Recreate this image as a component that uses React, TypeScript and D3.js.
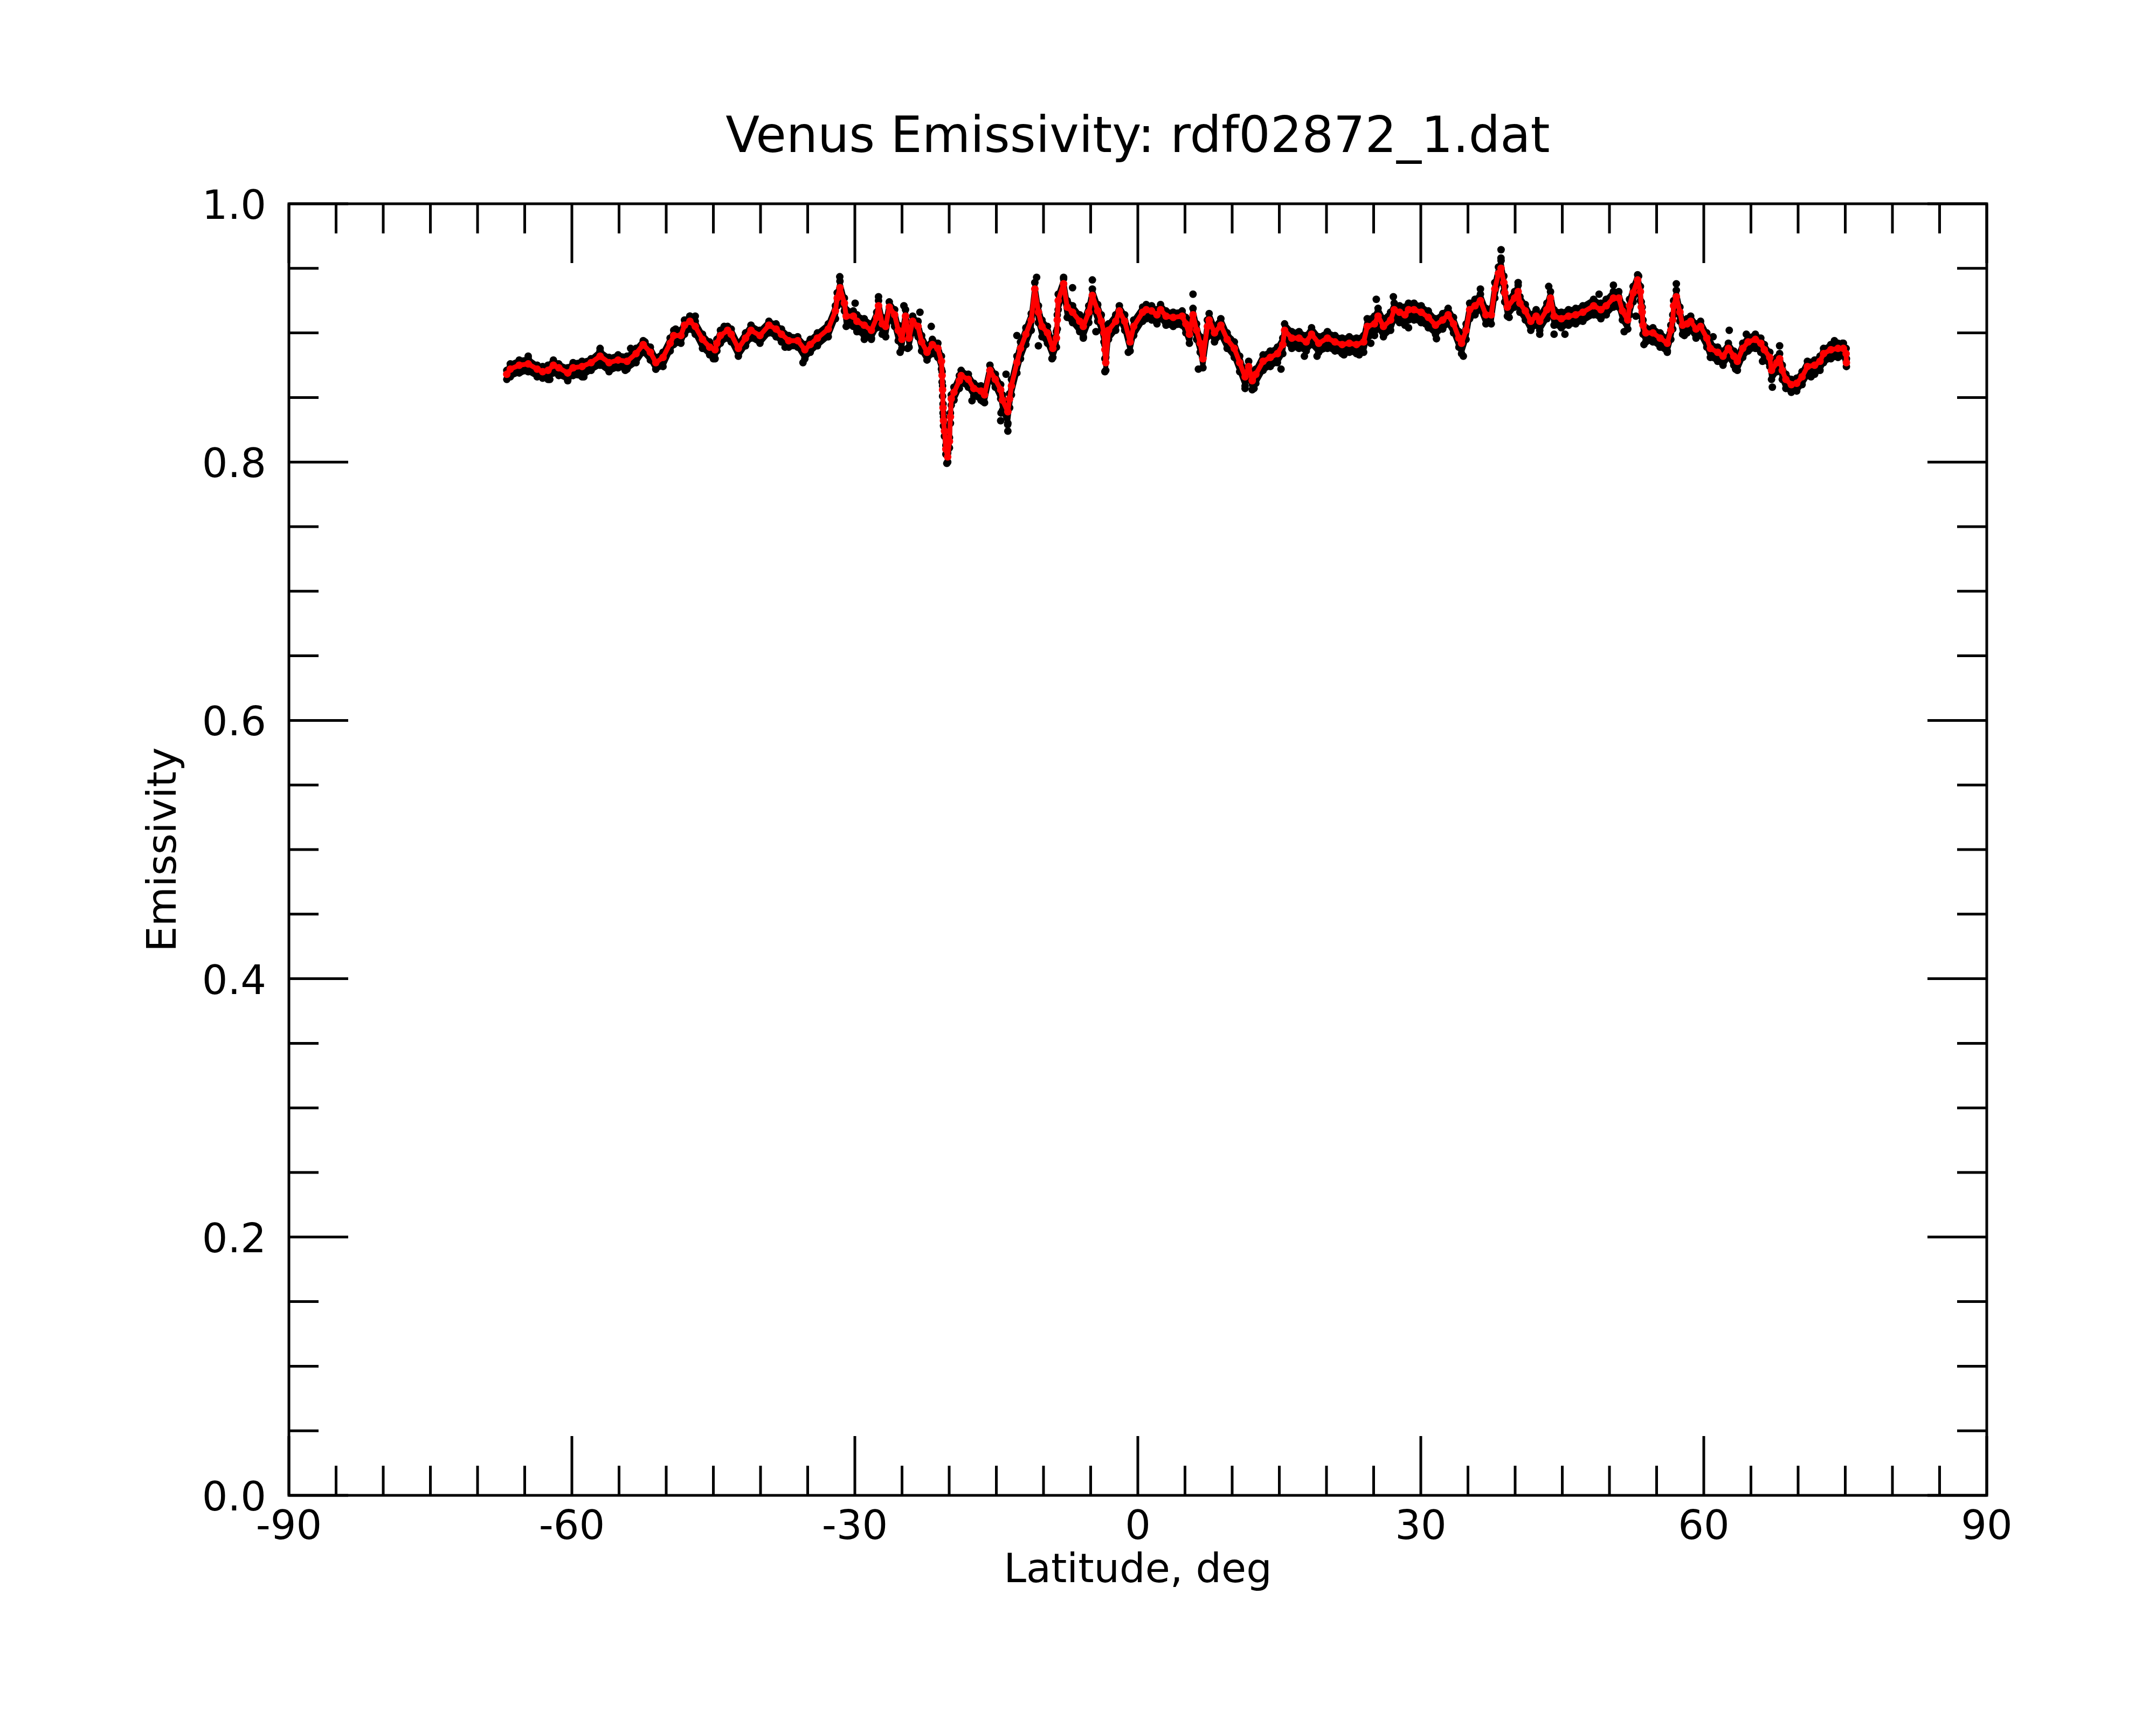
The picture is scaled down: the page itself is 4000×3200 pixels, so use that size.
import React from 'react';
import * as d3 from 'd3';

// latitude (deg) of each smoothed sample
const latitudes = [
  -66.9, -66.53, -65.58, -64.63, -63.68, -63.1, -62.53, -61.96, -61.39, -60.44,
  -59.87, -58.92, -57.96, -57.01, -56.06, -55.1, -54.15, -53.2, -52.44, -51.68,
  -51.1, -50.34, -49.58, -49.2, -48.44, -48.06, -47.49, -46.92, -46.15, -45.39,
  -44.82, -44.63, -44.25, -43.49, -43.11, -42.35, -41.59, -41.01, -40.06, -39.11,
  -38.35, -37.78, -37.01, -36.06, -35.3, -34.73, -33.97, -32.82, -32.06, -31.87,
  -31.58, -31.11, -30.92, -30.16, -29.78, -29.01, -28.25, -27.68, -27.49, -27.11,
  -26.73, -26.35, -25.78, -25.4, -25.01, -24.63, -24.25, -23.87, -23.3, -22.92,
  -22.35, -21.78, -21.2, -20.82, -20.75, -20.7, -20.65, -20.6, -20.5, -20.35,
  -20.16, -19.97, -19.87, -19.78, -19.49, -18.92, -18.73, -17.97, -17.39, -16.63,
  -16.25, -15.68, -15.11, -14.54, -14.35, -13.78, -13.59, -13.4, -12.82, -12.44,
  -11.87, -11.3, -10.92, -10.54, -10.16, -9.58, -9.01, -8.63, -8.54, -8.44,
  -7.87, -7.49, -6.92, -6.16, -5.78, -5.2, -4.82, -4.25, -3.87, -3.59,
  -3.49, -3.4, -3.11, -2.35, -1.96, -1.39, -0.82, -0.44, 0.51, 0.89,
  1.46, 2.03, 2.41, 2.99, 3.75, 4.7, 5.09, 5.47, 5.85, 6.23,
  6.61, 6.9, 7.37, 7.56, 8.13, 8.8, 9.47, 10.23, 10.8, 11.37,
  11.75, 12.13, 12.51, 13.28, 14.04, 14.8, 15.37, 15.56, 16.32, 17.09,
  17.85, 18.42, 19.18, 20.1, 20.9, 21.66, 22.42, 23.18, 23.94, 24.32,
  25.09, 25.47, 26.04, 26.8, 27.18, 27.75, 28.32, 28.7, 29.28, 30.04,
  30.8, 31.56, 32.32, 32.9, 33.47, 34.04, 34.32, 34.8, 35.18, 35.75,
  36.32, 36.9, 37.47, 37.85, 38.23, 38.51, 38.8, 38.9, 39.18, 39.94,
  40.32, 40.51, 41.08, 41.66, 42.23, 42.61, 43.37, 43.75, 44.13, 44.9,
  45.66, 46.42, 47.18, 48.32, 49.09, 49.66, 50.42, 50.99, 51.37, 51.94,
  52.13, 52.51, 52.99, 53.28, 53.37, 53.47, 53.56, 53.85, 54.61, 55.37,
  56.13, 56.51, 56.71, 56.8, 57.09, 57.47, 57.75, 58.23, 58.61, 59.18,
  59.66, 60.32, 60.7, 61.47, 62.04, 62.61, 63.18, 63.56, 64.13, 64.7,
  65.47, 66.04, 66.42, 67.0, 67.18, 67.75, 68.04, 68.32, 68.7, 69.28,
  69.85, 70.42, 70.99, 71.75, 72.32, 72.7, 73.47, 74.23, 74.8, 75.09,
  75.12,
];

// red: smoothed emissivity
const smoothed = [
  0.868, 0.872, 0.875, 0.876, 0.872, 0.87, 0.871, 0.875, 0.873, 0.869,
  0.873, 0.874, 0.877, 0.882, 0.877, 0.879, 0.878, 0.884, 0.891, 0.885,
  0.877, 0.881, 0.892, 0.898, 0.898, 0.906, 0.909, 0.905, 0.895, 0.889,
  0.887, 0.892, 0.898, 0.902, 0.899, 0.888, 0.896, 0.902, 0.898, 0.906,
  0.903, 0.899, 0.894, 0.894, 0.887, 0.891, 0.896, 0.903, 0.917, 0.927,
  0.935, 0.923, 0.913, 0.913, 0.909, 0.906, 0.902, 0.912, 0.921, 0.907,
  0.905, 0.92, 0.914, 0.902, 0.895, 0.913, 0.896, 0.909, 0.905, 0.893,
  0.885, 0.891, 0.888, 0.878, 0.867, 0.856, 0.842, 0.832, 0.824, 0.81,
  0.804, 0.816, 0.835, 0.849, 0.854, 0.863, 0.867, 0.864, 0.857, 0.855,
  0.852, 0.871, 0.864, 0.856, 0.848, 0.839, 0.849, 0.859, 0.877, 0.888,
  0.899, 0.91, 0.934, 0.916, 0.905, 0.9, 0.888, 0.896, 0.91, 0.925,
  0.938, 0.92, 0.916, 0.909, 0.905, 0.916, 0.929, 0.917, 0.909, 0.9,
  0.887, 0.877, 0.902, 0.909, 0.917, 0.909, 0.893, 0.905, 0.916, 0.918,
  0.917, 0.914, 0.918, 0.913, 0.912, 0.913, 0.907, 0.899, 0.914, 0.902,
  0.892, 0.88, 0.905, 0.91, 0.9, 0.906, 0.895, 0.888, 0.877, 0.866,
  0.874, 0.863, 0.868, 0.878, 0.881, 0.884, 0.891, 0.902, 0.896, 0.896,
  0.893, 0.899, 0.892, 0.896, 0.893, 0.891, 0.892, 0.891, 0.893, 0.905,
  0.907, 0.913, 0.905, 0.91, 0.918, 0.916, 0.914, 0.918, 0.918, 0.916,
  0.912, 0.906, 0.91, 0.914, 0.907, 0.896, 0.892, 0.902, 0.918, 0.921,
  0.925, 0.914, 0.914, 0.934, 0.946, 0.95, 0.939, 0.931, 0.92, 0.927,
  0.932, 0.923, 0.917, 0.909, 0.913, 0.909, 0.918, 0.927, 0.913, 0.911,
  0.913, 0.914, 0.916, 0.921, 0.918, 0.921, 0.927, 0.927, 0.917, 0.91,
  0.921, 0.931, 0.941, 0.932, 0.92, 0.916, 0.906, 0.9, 0.9, 0.896,
  0.892, 0.902, 0.91, 0.921, 0.928, 0.916, 0.906, 0.907, 0.909, 0.903,
  0.905, 0.896, 0.888, 0.885, 0.882, 0.888, 0.882, 0.878, 0.888, 0.893,
  0.895, 0.892, 0.887, 0.881, 0.871, 0.877, 0.88, 0.871, 0.864, 0.86,
  0.861, 0.866, 0.874, 0.875, 0.878, 0.884, 0.887, 0.888, 0.888, 0.884,
  0.877,
];

// black: upper and lower edge of the raw-sample band at the same latitudes
const rawUpper = [
  0.871, 0.876, 0.879, 0.88, 0.875, 0.874, 0.875, 0.879, 0.876, 0.873,
  0.877, 0.878, 0.88, 0.886, 0.881, 0.883, 0.882, 0.888, 0.894, 0.889,
  0.881, 0.885, 0.896, 0.902, 0.902, 0.91, 0.913, 0.909, 0.899, 0.893,
  0.89, 0.895, 0.902, 0.905, 0.903, 0.892, 0.9, 0.906, 0.902, 0.909,
  0.907, 0.903, 0.898, 0.897, 0.891, 0.895, 0.9, 0.907, 0.921, 0.931,
  0.94, 0.927, 0.918, 0.917, 0.914, 0.911, 0.907, 0.916, 0.925, 0.912,
  0.91, 0.924, 0.918, 0.906, 0.9, 0.918, 0.901, 0.913, 0.909, 0.898,
  0.89, 0.895, 0.892, 0.882, 0.87, 0.859, 0.845, 0.835, 0.827, 0.813,
  0.807, 0.819, 0.838, 0.852, 0.858, 0.867, 0.871, 0.868, 0.861, 0.859,
  0.856, 0.875, 0.868, 0.86, 0.852, 0.843, 0.853, 0.864, 0.882, 0.893,
  0.904, 0.915, 0.939, 0.921, 0.91, 0.905, 0.893, 0.901, 0.914, 0.93,
  0.942, 0.925, 0.921, 0.914, 0.91, 0.921, 0.934, 0.922, 0.914, 0.905,
  0.891, 0.881, 0.907, 0.914, 0.921, 0.914, 0.898, 0.91, 0.92, 0.922,
  0.921, 0.918, 0.922, 0.917, 0.916, 0.917, 0.912, 0.904, 0.919, 0.907,
  0.897, 0.884, 0.91, 0.915, 0.905, 0.911, 0.9, 0.893, 0.882, 0.87,
  0.878, 0.867, 0.872, 0.883, 0.886, 0.889, 0.896, 0.907, 0.901, 0.901,
  0.898, 0.904, 0.897, 0.901, 0.898, 0.896, 0.897, 0.896, 0.898, 0.911,
  0.913, 0.919, 0.911, 0.916, 0.923, 0.921, 0.92, 0.923, 0.923, 0.921,
  0.917, 0.911, 0.915, 0.919, 0.912, 0.901, 0.896, 0.907, 0.923, 0.926,
  0.93, 0.919, 0.919, 0.939, 0.951, 0.956, 0.944, 0.936, 0.925, 0.932,
  0.937, 0.928, 0.922, 0.914, 0.918, 0.914, 0.923, 0.932, 0.918, 0.916,
  0.918, 0.919, 0.921, 0.926, 0.923, 0.926, 0.932, 0.932, 0.922, 0.915,
  0.926, 0.936, 0.945, 0.936, 0.924, 0.92, 0.91, 0.904, 0.904, 0.9,
  0.896, 0.906, 0.914, 0.925, 0.933, 0.92, 0.91, 0.911, 0.913, 0.907,
  0.909, 0.9, 0.892, 0.889, 0.886, 0.892, 0.886, 0.882, 0.892, 0.897,
  0.899, 0.896, 0.891, 0.885, 0.875, 0.881, 0.884, 0.875, 0.868, 0.864,
  0.865, 0.87, 0.878, 0.879, 0.882, 0.888, 0.891, 0.892, 0.892, 0.888,
  0.88,
];

const rawLower = [
  0.864, 0.866, 0.869, 0.87, 0.866, 0.865, 0.864, 0.869, 0.867, 0.864,
  0.867, 0.866, 0.871, 0.875, 0.87, 0.873, 0.872, 0.877, 0.885, 0.879,
  0.872, 0.874, 0.886, 0.891, 0.892, 0.899, 0.903, 0.899, 0.888, 0.883,
  0.88, 0.886, 0.892, 0.896, 0.893, 0.882, 0.89, 0.896, 0.892, 0.9,
  0.897, 0.893, 0.889, 0.889, 0.88, 0.885, 0.89, 0.897, 0.911, 0.921,
  0.929, 0.917, 0.905, 0.905, 0.901, 0.898, 0.896, 0.904, 0.913, 0.899,
  0.897, 0.912, 0.905, 0.894, 0.888, 0.905, 0.889, 0.901, 0.897, 0.886,
  0.879, 0.884, 0.881, 0.872, 0.862, 0.851, 0.838, 0.828, 0.82, 0.806,
  0.8, 0.811, 0.83, 0.844, 0.848, 0.857, 0.861, 0.858, 0.851, 0.848,
  0.846, 0.865, 0.858, 0.849, 0.84, 0.83, 0.842, 0.852, 0.869, 0.88,
  0.891, 0.902, 0.926, 0.908, 0.897, 0.892, 0.881, 0.889, 0.903, 0.918,
  0.93, 0.912, 0.908, 0.901, 0.897, 0.908, 0.921, 0.909, 0.902, 0.893,
  0.88, 0.871, 0.895, 0.902, 0.91, 0.902, 0.886, 0.898, 0.909, 0.911,
  0.91, 0.907, 0.911, 0.906, 0.905, 0.906, 0.9, 0.892, 0.906, 0.895,
  0.885, 0.873, 0.897, 0.902, 0.893, 0.898, 0.888, 0.881, 0.87, 0.859,
  0.867, 0.856, 0.861, 0.871, 0.874, 0.877, 0.884, 0.894, 0.888, 0.888,
  0.886, 0.891, 0.885, 0.888, 0.886, 0.884, 0.885, 0.884, 0.885, 0.896,
  0.898, 0.904, 0.897, 0.902, 0.91, 0.908, 0.906, 0.91, 0.91, 0.908,
  0.904, 0.899, 0.903, 0.907, 0.9, 0.889, 0.884, 0.895, 0.911, 0.914,
  0.918, 0.907, 0.907, 0.927, 0.939, 0.943, 0.932, 0.924, 0.913, 0.92,
  0.925, 0.916, 0.91, 0.902, 0.906, 0.902, 0.911, 0.92, 0.906, 0.904,
  0.906, 0.907, 0.909, 0.914, 0.911, 0.914, 0.92, 0.92, 0.91, 0.903,
  0.914, 0.924, 0.934, 0.925, 0.913, 0.909, 0.899, 0.893, 0.893, 0.889,
  0.885, 0.895, 0.903, 0.914, 0.921, 0.909, 0.899, 0.9, 0.902, 0.896,
  0.898, 0.889, 0.881, 0.878, 0.875, 0.881, 0.875, 0.871, 0.881, 0.886,
  0.888, 0.885, 0.88, 0.874, 0.864, 0.87, 0.873, 0.864, 0.857, 0.854,
  0.855, 0.86, 0.867, 0.868, 0.871, 0.877, 0.88, 0.881, 0.882, 0.879,
  0.874,
];

// black: isolated raw samples lying outside the band
const outlierLat = [
  -65.39, -64.63, -62.34, -60.44, -58.73, -57.01, -54.34, -53.77, -52.25, -51.1,
  -49.0, -47.49, -46.92, -45.0, -43.86, -37.4, -35.5, -31.6, -29.97, -29.0,
  -28.25, -27.49, -25.2, -24.8, -24.4, -23.1, -21.9, -20.25, -17.58, -16.44,
  -14.54, -14.5, -13.97, -13.8, -13.78, -12.82, -10.73, -10.54, -9.1, -7.87,
  -6.92, -5.78, -4.82, -4.44, -3.49, -1.01, 5.85, 6.42, 9.85, 11.37,
  12.32, 15.18, 17.66, 19.0, 21.85, 23.47, 24.7, 25.28, 27.09, 28.7,
  31.66, 34.51, 36.32, 38.5, 38.51, 39.37, 40.32, 42.61, 43.56, 44.13,
  45.28, 48.9, 50.42, 51.56, 52.8, 53.09, 53.66, 56.13, 57.09, 57.94,
  60.99, 62.7, 63.37, 64.51, 66.23, 67.27, 68.04, 71.37, 73.85, 74.7,
];
const outlierValue = [
  0.87, 0.882, 0.864, 0.863, 0.866, 0.888, 0.871, 0.888, 0.893, 0.872,
  0.903, 0.913, 0.913, 0.88, 0.905, 0.889, 0.877, 0.9435, 0.923, 0.895,
  0.895, 0.928, 0.885, 0.921, 0.888, 0.916, 0.905, 0.799, 0.8475, 0.847,
  0.832, 0.838, 0.868, 0.829, 0.824, 0.898, 0.943, 0.89, 0.88, 0.943,
  0.935, 0.896, 0.941, 0.901, 0.87, 0.885, 0.93, 0.872, 0.895, 0.857,
  0.857, 0.872, 0.882, 0.882, 0.883, 0.883, 0.892, 0.926, 0.928, 0.904,
  0.8955, 0.882, 0.934, 0.958, 0.9644, 0.912, 0.939, 0.899, 0.936, 0.899,
  0.899, 0.93, 0.937, 0.901, 0.913, 0.944, 0.891, 0.886, 0.938, 0.898,
  0.897, 0.902, 0.872, 0.899, 0.878, 0.858, 0.89, 0.866, 0.894, 0.892,
];

const xMajorTicks = [-90, -60, -30, 0, 30, 60, 90];
const xMinorTicks = [
  -85, -80, -75, -70, -65, -55, -50, -45, -40, -35, -25, -20, -15, -10, -5,
  5, 10, 15, 20, 25, 35, 40, 45, 50, 55, 65, 70, 75, 80, 85,
];
const yMajorTicks = [0, 0.2, 0.4, 0.6, 0.8, 1.0];
const yMinorTicks = [0.05, 0.1, 0.15, 0.25, 0.3, 0.35, 0.45, 0.5, 0.55, 0.65, 0.7, 0.75, 0.85, 0.9, 0.95];

const W = 4000;
const H = 3200;
const plot = { left: 536, right: 3686, top: 378, bottom: 2774 };
const font = 'DejaVu Sans, sans-serif';

export default function App() {
  const x = d3.scaleLinear().domain([-90, 90]).range([plot.left, plot.right]);
  const y = d3.scaleLinear().domain([0, 1]).range([plot.bottom, plot.top]);

  const major = 110;
  const minor = 55;
  const sw = 5;

  // dense raw band drawn between its read edges
  const band = d3
    .area<number>()
    .x((lat) => x(lat))
    .y0((_, i) => y(rawLower[i]))
    .y1((_, i) => y(rawUpper[i]))(latitudes);

  const redLine = d3
    .line<number>()
    .x((lat) => x(lat))
    .y((_, i) => y(smoothed[i]))(latitudes);

  const raw = latitudes.flatMap((lat, i) => [
    [lat, rawUpper[i]],
    [lat, rawLower[i]],
  ]);
  const outliers = outlierLat.map((lat, i) => [lat, outlierValue[i]]);

  return (
    <svg width={W} height={H} style={{ position: 'absolute', left: 0, top: 0, background: '#fff' }}>
      <rect width={W} height={H} fill="#fff" />

      {/* raw samples */}
      <path d={band ?? ''} fill="#000" stroke="#000" strokeWidth={8} strokeLinejoin="round" />
      <g fill="#000">
        {raw.map(([lat, v], i) => (
          <circle key={'r' + i} cx={x(lat)} cy={y(v)} r={7} />
        ))}
        {outliers.map(([lat, v], i) => (
          <circle key={'o' + i} cx={x(lat)} cy={y(v)} r={7} />
        ))}
      </g>

      {/* smoothed */}
      <path
        d={redLine ?? ''}
        fill="none"
        stroke="#ff0000"
        strokeWidth={9}
        strokeLinejoin="round"
        strokeLinecap="round"
      />
      <g fill="#ff0000">
        {latitudes.map((lat, i) => (
          <circle key={'s' + i} cx={x(lat)} cy={y(smoothed[i])} r={7} />
        ))}
      </g>

      {/* frame */}
      <rect
        x={plot.left}
        y={plot.top}
        width={plot.right - plot.left}
        height={plot.bottom - plot.top}
        fill="none"
        stroke="#000"
        strokeWidth={sw}
      />

      {/* ticks */}
      <g stroke="#000" strokeWidth={sw}>
        {xMajorTicks.map((t) => (
          <g key={'xM' + t}>
            <line x1={x(t)} x2={x(t)} y1={plot.bottom} y2={plot.bottom - major} />
            <line x1={x(t)} x2={x(t)} y1={plot.top} y2={plot.top + major} />
          </g>
        ))}
        {xMinorTicks.map((t) => (
          <g key={'xm' + t}>
            <line x1={x(t)} x2={x(t)} y1={plot.bottom} y2={plot.bottom - minor} />
            <line x1={x(t)} x2={x(t)} y1={plot.top} y2={plot.top + minor} />
          </g>
        ))}
        {yMajorTicks.map((t) => (
          <g key={'yM' + t}>
            <line x1={plot.left} x2={plot.left + major} y1={y(t)} y2={y(t)} />
            <line x1={plot.right} x2={plot.right - major} y1={y(t)} y2={y(t)} />
          </g>
        ))}
        {yMinorTicks.map((t) => (
          <g key={'ym' + t}>
            <line x1={plot.left} x2={plot.left + minor} y1={y(t)} y2={y(t)} />
            <line x1={plot.right} x2={plot.right - minor} y1={y(t)} y2={y(t)} />
          </g>
        ))}
      </g>

      {/* tick labels */}
      <g fontFamily={font} fontSize={75} fill="#000">
        {xMajorTicks.map((t) => (
          <text key={'xl' + t} x={x(t)} y={plot.bottom + 81} textAnchor="middle">
            {t}
          </text>
        ))}
        {yMajorTicks.map((t) => (
          <text key={'yl' + t} x={plot.left - 42} y={y(t) + 28} textAnchor="end">
            {t.toFixed(1)}
          </text>
        ))}
      </g>

      {/* titles */}
      <text x={(plot.left + plot.right) / 2} y={282} textAnchor="middle" fontFamily={font} fontSize={92}>
        Venus Emissivity: rdf02872_1.dat
      </text>
      <text x={(plot.left + plot.right) / 2} y={2935} textAnchor="middle" fontFamily={font} fontSize={75}>
        Latitude, deg
      </text>
      <text
        transform={`translate(326, ${(plot.top + plot.bottom) / 2}) rotate(-90)`}
        textAnchor="middle"
        fontFamily={font}
        fontSize={75}
      >
        Emissivity
      </text>
    </svg>
  );
}
